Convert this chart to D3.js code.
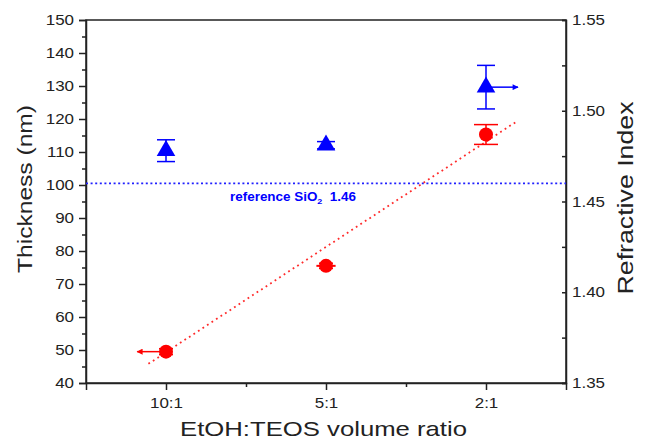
<!DOCTYPE html>
<html>
<head>
<meta charset="utf-8">
<script src="https://cdn.jsdelivr.net/npm/d3@7"></script>
<style>
  body { margin: 0; background: #fff; }
  svg { display: block; font-family: "Liberation Sans", Arial, sans-serif; }
  .axis path, .axis line { stroke: #222; stroke-width: 1.5; }
  .axis text { font-size: 14.5px; fill: #222; }
</style>
</head>
<body>
<div id="chart"></div>
<script>
// values
const ratios = ["10:1", "5:1", "2:1"];
const thickness = [49.5, 75.5, 115.3];
const thicknessErr = [0.9, 0.8, 3];
const thicknessXErr = [0, 0.06, 0];
const refIndex = [1.478, 1.481, 1.513];
const refIndexErr = [0.006, 0.002, 0.012];
const fitX = [0.89, 3.19];
const fitY = [45.8, 119.2];
const silicaIndex = 1.46;
const leftTicks = [40, 50, 60, 70, 80, 90, 100, 110, 120, 130, 140, 150];
const rightTicks = [1.35, 1.40, 1.45, 1.50, 1.55];
// arrows drawn from a point: which series, which ratio, how far (in ratio units)
const arrows = [
    {series: "thickness", idx: 0, dx: -0.18},
    {series: "index", idx: 2, dx: 0.2}
];

const W = 646, H = 442;
const plotL = 86, plotR = 566, plotT = 20, plotB = 383;
const STRETCH = 1.17; // text in the figure is drawn wider than Arial

const RED = "#ff0000";
const BLUE = "#0000ff";

const svg = d3.select("#chart").append("svg")
    .attr("width", W)
    .attr("height", H);

const defs = svg.append("defs");
[["arrRed", RED], ["arrBlue", BLUE]].forEach(([id, c]) => {
    defs.append("marker")
        .attr("id", id)
        .attr("viewBox", "0 0 10 10")
        .attr("refX", 9).attr("refY", 5)
        .attr("markerWidth", 7).attr("markerHeight", 6)
        .attr("markerUnits", "userSpaceOnUse")
        .attr("orient", "auto")
        .append("path")
        .attr("d", "M0,0L10,5L0,10z")
        .attr("fill", c);
});

const x = d3.scaleLinear().domain([0.5, 3.5]).range([plotL, plotR]);
const yL = d3.scaleLinear().domain([40, 150]).range([plotB, plotT]);
const yR = d3.scaleLinear().domain([1.35, 1.55]).range([plotB, plotT]);

// widen text horizontally without moving its anchor
const widen = (sel) => {
    sel.each(function() {
        const t = d3.select(this);
        const xv = +t.attr("x") || 0;
        t.attr("x", xv / STRETCH).attr("transform", `scale(${STRETCH},1)`);
    });
};

// frame
svg.append("rect")
    .attr("x", plotL).attr("y", plotT)
    .attr("width", plotR - plotL).attr("height", plotB - plotT)
    .attr("fill", "none").attr("stroke", "#222").attr("stroke-width", 1.5);

// left axis
const gL = svg.append("g").attr("class", "axis")
    .attr("transform", `translate(${plotL},0)`)
    .call(d3.axisLeft(yL).tickValues(leftTicks).tickSize(7).tickPadding(5));
gL.selectAll("text").call(widen);
svg.append("g").attr("class", "axis")
    .attr("transform", `translate(${plotL},0)`)
    .call(d3.axisLeft(yL).tickValues(leftTicks.slice(0, -1).map(d => d + 5)).tickSize(4).tickFormat(""))
    .select(".domain").remove();

// right axis (ticks inward)
const gR = svg.append("g").attr("class", "axis")
    .attr("transform", `translate(${plotR},0)`)
    .call(d3.axisRight(yR).tickValues(rightTicks).tickSize(-4).tickPadding(6).tickFormat(d3.format(".2f")));
gR.selectAll("text").call(widen);
svg.append("g").attr("class", "axis")
    .attr("transform", `translate(${plotR},0)`)
    .call(d3.axisRight(yR).tickValues(rightTicks.slice(0, -1).map(d => d + 0.025)).tickSize(-4).tickFormat(""))
    .select(".domain").remove();

// bottom axis
const gB = svg.append("g").attr("class", "axis")
    .attr("transform", `translate(0,${plotB})`)
    .call(d3.axisBottom(x).tickValues([1, 2, 3]).tickSize(7).tickPadding(7.5)
        .tickFormat(d => ratios[d - 1]));
gB.selectAll("text").call(widen);
svg.append("g").attr("class", "axis")
    .attr("transform", `translate(0,${plotB})`)
    .call(d3.axisBottom(x).tickValues([1.5, 2.5]).tickSize(4).tickFormat(""))
    .select(".domain").remove();

// axis titles
svg.append("text")
    .attr("x", 323.5).attr("y", 436)
    .attr("text-anchor", "middle")
    .attr("font-size", 21).attr("fill", "#222")
    .attr("textLength", 287).attr("lengthAdjust", "spacingAndGlyphs")
    .text("EtOH:TEOS volume ratio");

svg.append("g").attr("transform", "translate(32,189) rotate(-90)")
    .append("text")
    .attr("transform", `scale(${STRETCH},1)`)
    .attr("text-anchor", "middle")
    .attr("font-size", 21).attr("fill", "#222")
    .text("Thickness (nm)");

svg.append("g").attr("transform", "translate(633,198) rotate(-90)")
    .append("text")
    .attr("text-anchor", "middle")
    .attr("font-size", 22).attr("fill", "#222")
    .attr("textLength", 193).attr("lengthAdjust", "spacingAndGlyphs")
    .text("Refractive Index");

// reference line for SiO2
svg.append("line")
    .attr("x1", plotL).attr("x2", plotR)
    .attr("y1", yR(silicaIndex)).attr("y2", yR(silicaIndex))
    .attr("stroke", "#2020ff").attr("stroke-width", 1.6)
    .attr("stroke-dasharray", "2,2.6");

const refLabel = svg.append("text")
    .attr("x", 230).attr("y", 201)
    .attr("font-size", 12).attr("font-weight", "bold").attr("fill", BLUE)
    .attr("textLength", 126).attr("lengthAdjust", "spacingAndGlyphs");
refLabel.append("tspan").text("reference SiO");
refLabel.append("tspan").attr("font-size", 8).attr("dy", 3).text("2");
refLabel.append("tspan").attr("dy", -3).text("\u00a0\u00a01.46");

// linear fit of thickness
svg.append("line")
    .attr("x1", x(fitX[0])).attr("y1", yL(fitY[0]))
    .attr("x2", x(fitX[1])).attr("y2", yL(fitY[1]))
    .attr("stroke", "#ff2a2a").attr("stroke-width", 1.8)
    .attr("stroke-dasharray", "1.8,3.6");

// thickness error bars + points
const thk = svg.append("g");
ratios.forEach((r, i) => {
    const cx = x(i + 1);
    const y0 = yL(thickness[i] - thicknessErr[i]);
    const y1 = yL(thickness[i] + thicknessErr[i]);
    const cap = thicknessErr[i] > 2 ? 12 : 7;
    thk.append("line").attr("x1", cx).attr("x2", cx).attr("y1", y0).attr("y2", y1)
        .attr("stroke", RED).attr("stroke-width", 1.5);
    [y0, y1].forEach(yy => thk.append("line")
        .attr("x1", cx - cap).attr("x2", cx + cap).attr("y1", yy).attr("y2", yy)
        .attr("stroke", RED).attr("stroke-width", 1.5));
    if (thicknessXErr[i] > 0) {
        thk.append("line")
            .attr("x1", x(i + 1 - thicknessXErr[i])).attr("x2", x(i + 1 + thicknessXErr[i]))
            .attr("y1", yL(thickness[i])).attr("y2", yL(thickness[i]))
            .attr("stroke", RED).attr("stroke-width", 2);
    }
});
thk.selectAll("circle")
    .data(thickness)
    .enter().append("circle")
    .attr("cx", (d, i) => x(i + 1))
    .attr("cy", d => yL(d))
    .attr("r", 7)
    .attr("fill", RED);

// refractive index error bars + points
const ri = svg.append("g");
ratios.forEach((r, i) => {
    const cx = x(i + 1);
    const y0 = yR(refIndex[i] - refIndexErr[i]);
    const y1 = yR(refIndex[i] + refIndexErr[i]);
    ri.append("line").attr("x1", cx).attr("x2", cx).attr("y1", y0).attr("y2", y1)
        .attr("stroke", BLUE).attr("stroke-width", 1.5);
    [y0, y1].forEach(yy => ri.append("line")
        .attr("x1", cx - 9).attr("x2", cx + 9).attr("y1", yy).attr("y2", yy)
        .attr("stroke", BLUE).attr("stroke-width", 1.5));
});
ri.selectAll("path.tri")
    .data(refIndex)
    .enter().append("path")
    .attr("class", "tri")
    .attr("transform", (d, i) => `translate(${x(i + 1)},${yR(d)})`)
    .attr("d", d3.symbol().type(d3.symbolTriangle).size(150))
    .attr("fill", BLUE);

// arrows
arrows.forEach(a => {
    const yy = a.series === "thickness" ? yL(thickness[a.idx]) : yR(refIndex[a.idx]);
    svg.append("line")
        .attr("x1", x(a.idx + 1)).attr("x2", x(a.idx + 1 + a.dx))
        .attr("y1", yy).attr("y2", yy)
        .attr("stroke", a.series === "thickness" ? RED : BLUE)
        .attr("stroke-width", 1.5)
        .attr("marker-end", `url(#${a.series === "thickness" ? "arrRed" : "arrBlue"})`);
});
</script>
</body>
</html>
